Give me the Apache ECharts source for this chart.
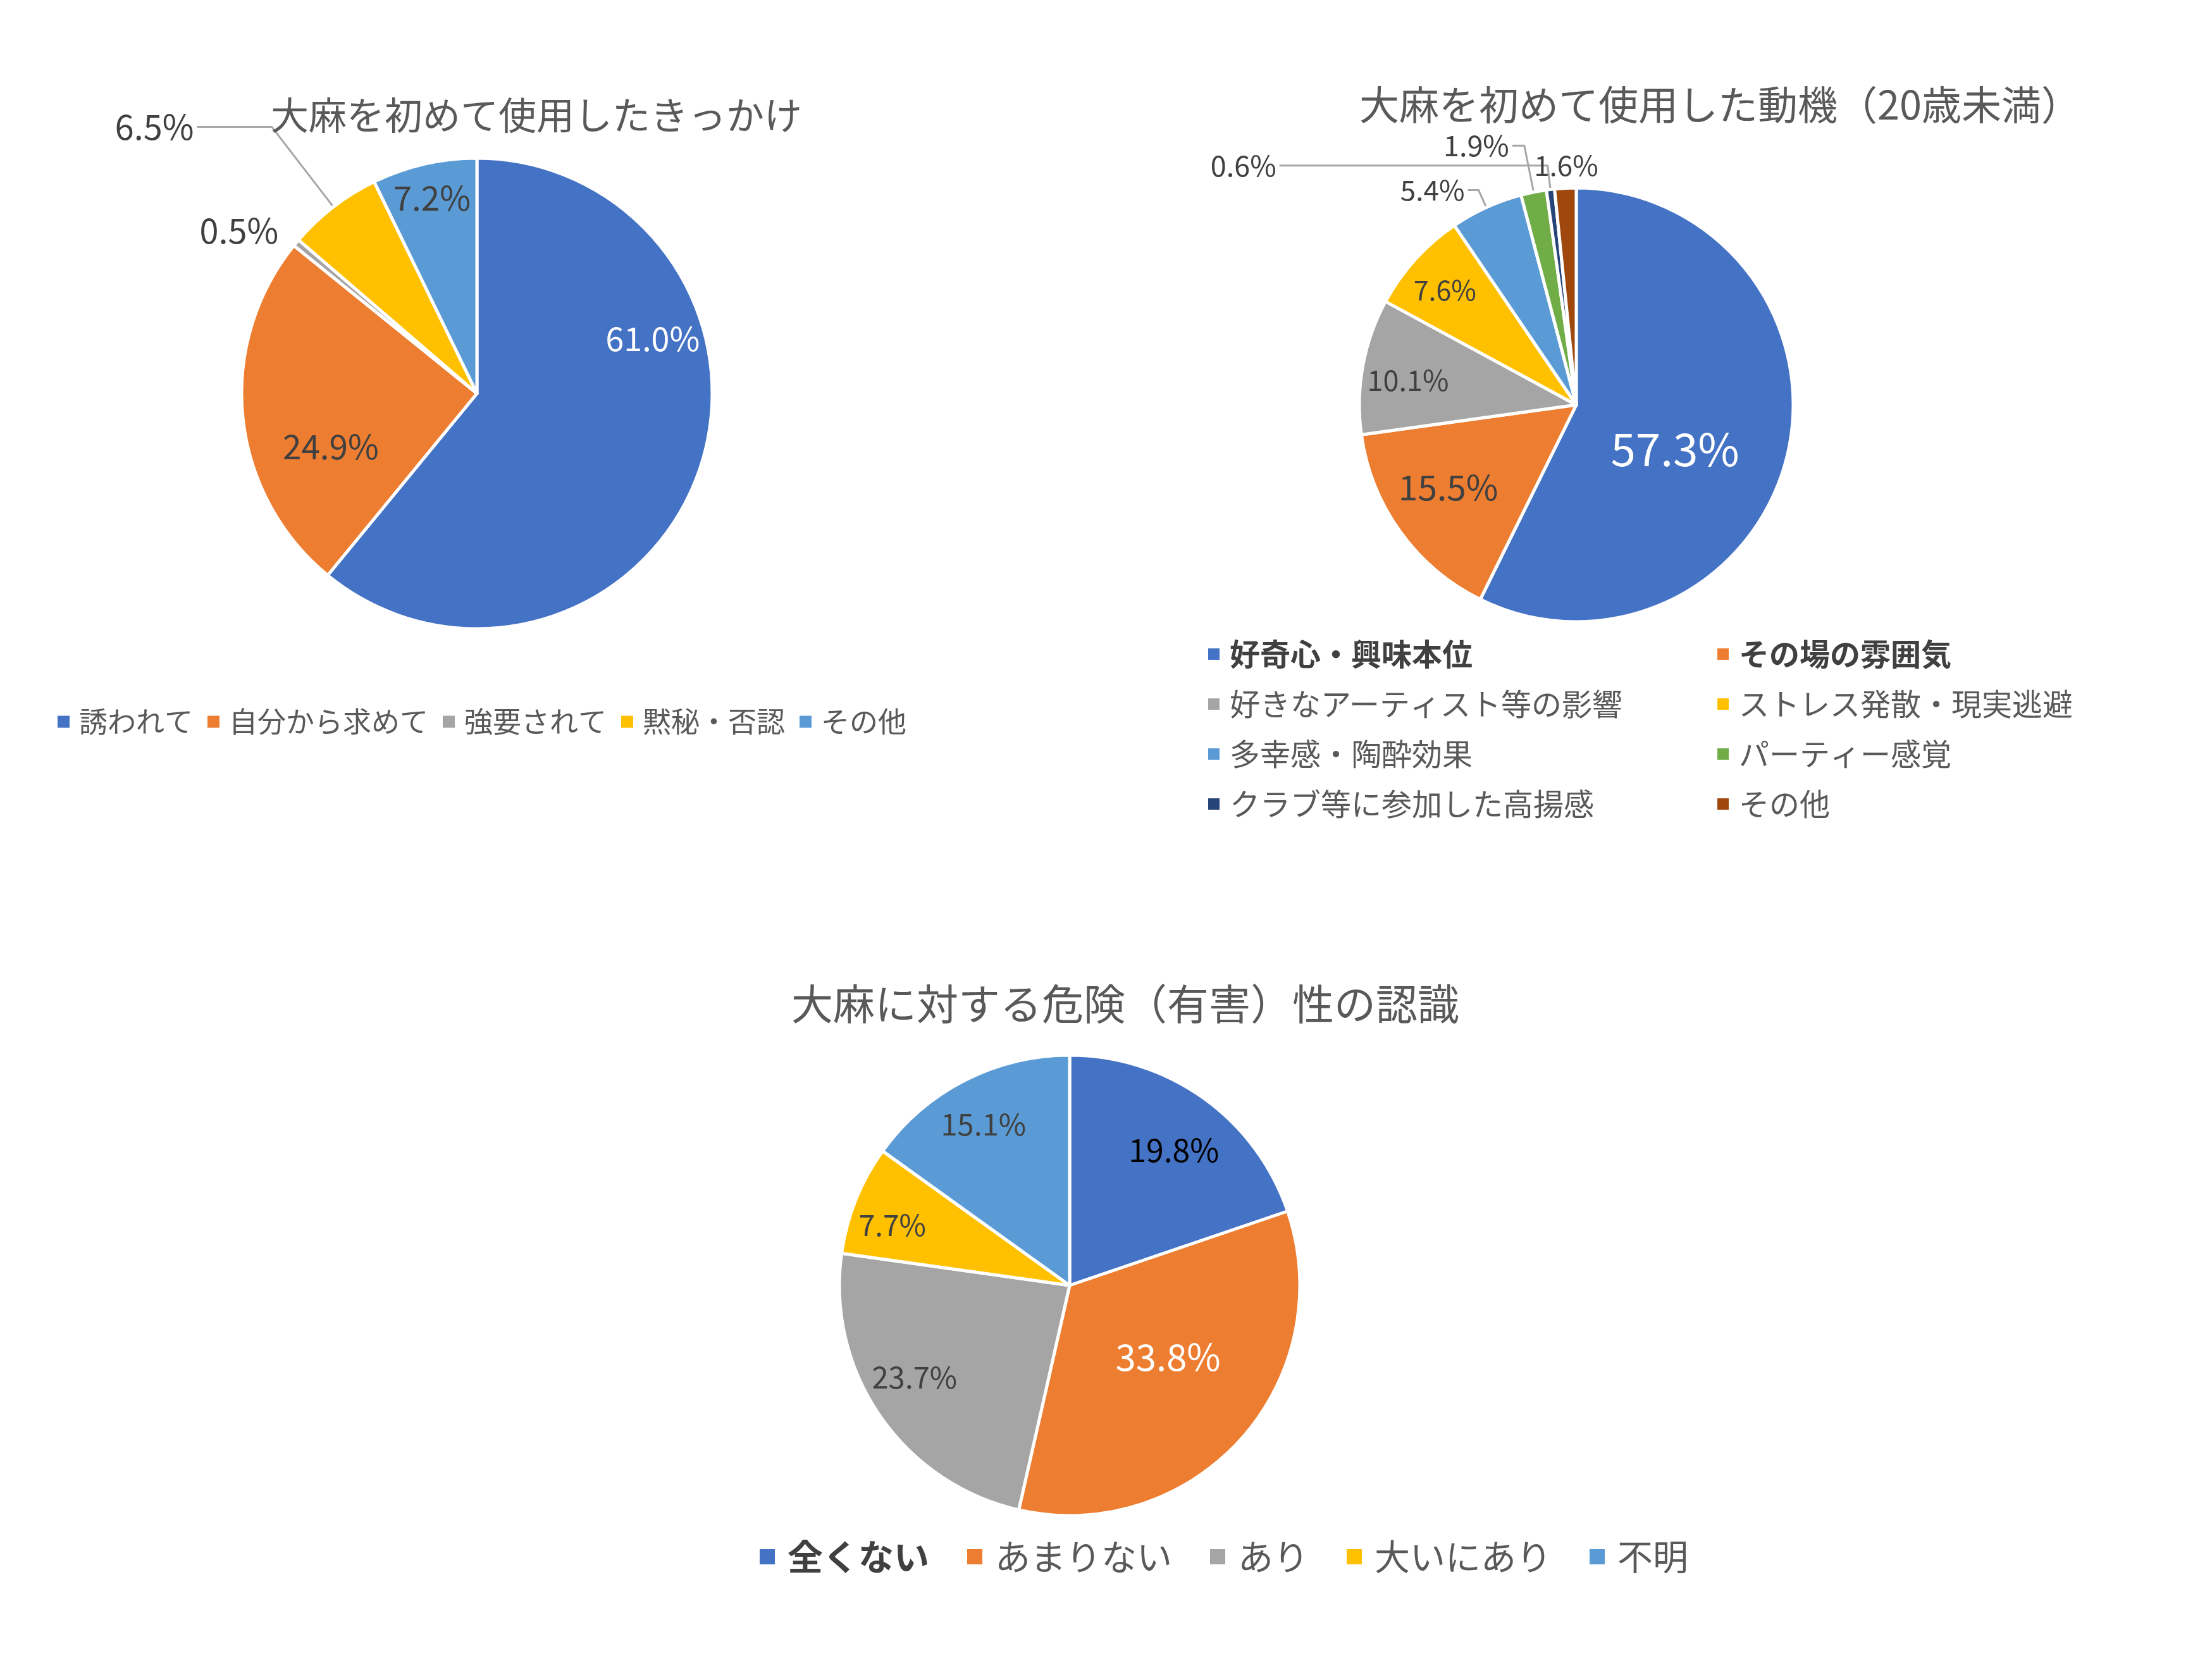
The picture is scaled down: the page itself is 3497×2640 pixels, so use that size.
<!DOCTYPE html>
<html><head><meta charset="utf-8">
<script src="https://cdn.jsdelivr.net/npm/echarts@6/dist/echarts.min.js"></script>
<style>html,body{margin:0;padding:0;background:#fff}#c{width:3497px;height:2640px}</style>
</head><body><div id="c"></div>
<script>
// ---- data ----
const triggerTitle = '大麻を初めて使用したきっかけ';
const triggerNames = ['誘われて', '自分から求めて', '強要されて', '黙秘・否認', 'その他'];
const triggerValues = [61.0, 24.9, 0.5, 6.5, 7.2];

const motiveTitle = '大麻を初めて使用した動機（20歳未満）';
const motiveNames = ['好奇心・興味本位', 'その場の雰囲気', '好きなアーティスト等の影響', 'ストレス発散・現実逃避',
  '多幸感・陶酔効果', 'パーティー感覚', 'クラブ等に参加した高揚感', 'その他'];
const motiveValues = [57.3, 15.5, 10.1, 7.6, 5.4, 1.9, 0.6, 1.6];

const riskTitle = '大麻に対する危険（有害）性の認識';
const riskNames = ['全くない', 'あまりない', 'あり', '大いにあり', '不明'];
const riskValues = [19.8, 33.8, 23.7, 7.7, 15.1];

// ---- styles ----
const palette = ['#4472C4', '#ED7D31', '#A5A5A5', '#FFC000', '#5B9BD5', '#70AD47', '#264478', '#9E480E'];
const FONT = '"Noto Sans CJK JP", "Noto Sans", sans-serif';
const TXT = '#595959', LBL = '#404040';

// layout of each pie: center + radius (px)
const pie1 = { c: [754, 622], r: 372 };
const pie2 = { c: [2492, 640], r: 343 };
const pie3 = { c: [1691, 2032], r: 364 };

// label styling per slice: size, color, radial ratio + angular shift (deg) for inside labels; line => outside label
const trigLabel = {
  size: [52, 53, 54, 54, 53], color: ['#fff', LBL, LBL, LBL, LBL],
  ratio: [0.77, 0.65, null, null, 0.84], shift: [37, 14, 0, 0, 0],
  line: [null, null, { len: 30, len2: 0, show: false }, { len: 160, len2: 118, show: true }, null]
};
const motLabel = {
  size: [71, 55, 45, 43, 44, 45, 45, 44], color: ['#fff', LBL, LBL, LBL, LBL, LBL, LBL, LBL],
  ratio: [0.49, 0.69, 0.77, 0.79, null, null, null, null], shift: [-11, -3, 2, 1, 0, 0, 0, 0],
  line: [null, null, null, null, { len: 30, len2: 17, show: true }, { len: 75, len2: 19, show: true },
    { len: 38, len2: 424, show: true }, { len: 36, len2: 0, show: false, center: true }]
};
const riskLabel = {
  size: [50, 58, 47, 46, 47], color: ['#000', '#fff', LBL, LBL, LBL],
  ratio: [0.73, 0.52, 0.77, 0.80, 0.78], shift: [-2, 6, -4, 3, 1],
  line: [null, null, null, null, null]
};

function buildData(names, values, ls) {
  return names.map((n, i) => {
    const ln = ls.line[i];
    const item = {
      name: n, value: values[i],
      itemStyle: { color: palette[i % palette.length] },
      label: { fontSize: ls.size[i], color: ls.color[i], position: ln ? 'outside' : 'inside' }
    };
    if (ln) {
      item.labelLine = { show: ln.show, length: ln.len, length2: ln.len2, smooth: false,
        lineStyle: { color: '#A6A6A6', width: 3 } };
    }
    return item;
  });
}

function makeLayout(pie, ls) {
  return function (p) {
    const i = p.dataIndex;
    const rc = p.labelRect;
    const ratio = ls.ratio[i];
    if (ratio == null) {
      const ln = ls.line[i];
      if (ln && ln.center) return { dx: rc.width / 2 + 8 };
      return {};
    }
    const vx = rc.x + rc.width / 2 - pie.c[0], vy = rc.y + rc.height / 2 - pie.c[1];
    const len = Math.sqrt(vx * vx + vy * vy) * ratio / 0.5;
    const a = Math.atan2(-vy, vx) + ls.shift[i] * Math.PI / 180;
    return { x: pie.c[0] + len * Math.cos(a), y: pie.c[1] - len * Math.sin(a) };
  };
}

function pieSeries(pie, names, values, ls) {
  return {
    type: 'pie', center: pie.c, radius: pie.r, startAngle: 90, clockwise: true,
    avoidLabelOverlap: false, animation: false, silent: true,
    itemStyle: { borderColor: '#fff', borderWidth: 5 },
    label: { fontFamily: FONT, formatter: p => p.value.toFixed(1) + '%', distanceToLabelLine: 5 },
    data: buildData(names, values, ls),
    labelLayout: makeLayout(pie, ls)
  };
}

const titleBase = { padding: 0, textStyle: { fontFamily: FONT, color: TXT, fontWeight: 'normal' } };
function legendBase(extra) {
  return Object.assign({
    icon: 'rect', itemStyle: { borderWidth: 0 }, selectedMode: false
  }, extra);
}

const motiveLeft = [0, 2, 4, 6], motiveRight = [1, 3, 5, 7];
const legendItem = (names, i, bold) => {
  const o = { name: names[i], itemStyle: { color: palette[i] } };
  if (bold) o.textStyle = { fontWeight: 'bold', color: LBL };
  return o;
};

const option = {
  backgroundColor: '#fff',
  animation: false,
  title: [
    Object.assign({}, titleBase, { text: triggerTitle, left: 428, top: 152,
      textStyle: Object.assign({}, titleBase.textStyle, { fontSize: 60 }) }),
    Object.assign({}, titleBase, { text: motiveTitle, left: 2149, top: 134,
      textStyle: Object.assign({}, titleBase.textStyle, { fontSize: 63 }) }),
    Object.assign({}, titleBase, { text: riskTitle, left: 1251, top: 1554,
      textStyle: Object.assign({}, titleBase.textStyle, { fontSize: 66 }) })
  ],
  legend: [
    legendBase({ orient: 'horizontal', left: 86, top: 1111, itemWidth: 19, itemHeight: 19, itemGap: 23,
      textStyle: { fontFamily: FONT, color: TXT, fontSize: 45, lineHeight: 50, padding: [0, 0, 0, 10] },
      data: triggerNames.map((n, i) => legendItem(triggerNames, i, false)) }),
    legendBase({ orient: 'vertical', left: 1905, top: 1003, itemWidth: 18, itemHeight: 18, itemGap: 27,
      textStyle: { fontFamily: FONT, color: TXT, fontSize: 48, lineHeight: 52, padding: [0, 0, 0, 11] },
      data: motiveLeft.map(i => legendItem(motiveNames, i, i === 0)) }),
    legendBase({ orient: 'vertical', left: 2710, top: 1003, itemWidth: 18, itemHeight: 18, itemGap: 27,
      textStyle: { fontFamily: FONT, color: TXT, fontSize: 48, lineHeight: 52, padding: [0, 0, 0, 11] },
      data: motiveRight.map(i => legendItem(motiveNames, i, i === 1)) }),
    legendBase({ orient: 'horizontal', left: 1196, top: 2426, itemWidth: 24, itemHeight: 24, itemGap: 60,
      textStyle: { fontFamily: FONT, color: TXT, fontSize: 56, lineHeight: 60, padding: [0, 0, 0, 15] },
      data: riskNames.map((n, i) => legendItem(riskNames, i, i === 0)) })
  ],
  series: [
    pieSeries(pie1, triggerNames, triggerValues, trigLabel),
    pieSeries(pie2, motiveNames, motiveValues, motLabel),
    pieSeries(pie3, riskNames, riskValues, riskLabel)
  ]
};

const chart = echarts.init(document.getElementById('c'), null, { renderer: 'canvas' });
chart.setOption(option);
</script>
</body></html>
